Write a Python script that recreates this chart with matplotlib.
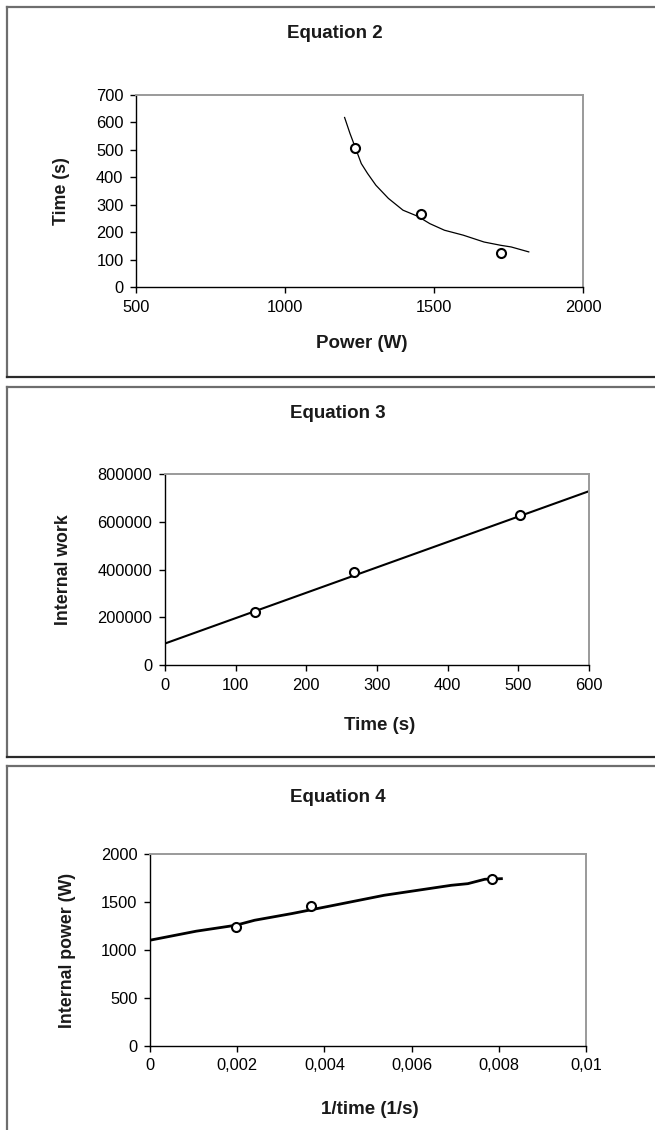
import matplotlib
matplotlib.use("Agg")
import matplotlib.pyplot as plt
from matplotlib.lines import Line2D
from matplotlib import font_manager

# ---------------- data ----------------
eq2_power = [1235, 1455, 1725]
eq2_time = [505, 265, 125]
eq2_curve_x = [1200, 1218, 1235, 1256, 1277, 1305, 1347, 1396, 1445, 1486, 1535, 1598, 1668, 1724, 1759, 1818]
eq2_curve_y = [618, 560, 511, 450, 414, 371, 323, 280, 258, 231, 207, 189, 164, 152, 146, 128]

eq3_time = [128, 268, 503]
eq3_work = [222000, 391000, 628000]
eq3_line_x = [0, 600]
eq3_line_y = [90000, 728000]

eq4_inv_time = [0.00197, 0.00370, 0.00785]
eq4_power = [1241, 1456, 1735]
eq4_line_x = [0, 0.00106, 0.00197, 0.0024, 0.00326, 0.00422, 0.00537, 0.00614, 0.00691, 0.00729, 0.00768, 0.00806]
eq4_line_y = [1102, 1196, 1258, 1310, 1380, 1466, 1570, 1622, 1674, 1691, 1737, 1743]

eq2_xticks = [500, 1000, 1500, 2000]
eq2_yticks = [0, 100, 200, 300, 400, 500, 600, 700]
eq3_xticks = [0, 100, 200, 300, 400, 500, 600]
eq3_yticks = [0, 200000, 400000, 600000, 800000]
eq4_xticks = [0, 0.002, 0.004, 0.006, 0.008, 0.01]
eq4_xticklabels = ["0", "0,002", "0,004", "0,006", "0,008", "0,01"]
eq4_yticks = [0, 500, 1000, 1500, 2000]

titles = ["Equation 2", "Equation 3", "Equation 4"]
xlabels = ["Power (W)", "Time (s)", "1/time (1/s)"]
ylabels = ["Time (s)", "Internal work", "Internal power (W)"]

# ---------------- fonts ----------------
avail = {f.name for f in font_manager.fontManager.ttflist}
narrow = "Liberation Sans Narrow" if "Liberation Sans Narrow" in avail else "Liberation Sans"
plt.rcParams['font.family'] = ['Liberation Sans', 'DejaVu Sans']

W, H = 655, 1130
fig = plt.figure(figsize=(W / 100, H / 100), dpi=100)


def fx(px):
    return px / W


def fy(py):
    return 1 - py / H


# panel borders
for top, bottom in [(6.5, 377), (387, 757), (766, 1140)]:
    fig.add_artist(Line2D([fx(6.5), fx(6.5)], [fy(top), fy(bottom)], color="#6e6e6e", lw=1.6))
    fig.add_artist(Line2D([fx(6.5), fx(670)], [fy(top), fy(top)], color="#6e6e6e", lw=1.6))
    fig.add_artist(Line2D([fx(6.5), fx(670)], [fy(bottom), fy(bottom)], color="#2a2a2a", lw=1.6))

axes_px = [(136, 583, 95, 287), (165, 589, 474, 665), (150, 586, 854, 1046)]
title_pos = [(335, 34), (338, 414), (338, 798)]
xlabel_pos = [(362, 343), (380, 725), (370, 1110)]
ylabel_x = [62, 64, 68]

axs = []
for (l, r, t, b) in axes_px:
    ax = fig.add_axes([fx(l), fy(b), (r - l) / W, (b - t) / H])
    for s in ["top", "right"]:
        ax.spines[s].set_color("#9a9a9a")
        ax.spines[s].set_linewidth(1.4)
    for s in ["left", "bottom"]:
        ax.spines[s].set_color("black")
        ax.spines[s].set_linewidth(1.0)
    ax.tick_params(direction="out", length=4, width=1, labelsize=11.8, pad=5, colors="black")
    axs.append(ax)

mk = dict(marker="o", ls="none", mfc="white", mec="black", ms=6.5, mew=1.5, zorder=3)

ax = axs[0]
ax.plot(eq2_curve_x, eq2_curve_y, color="black", lw=0.9)
ax.plot(eq2_power, eq2_time, **mk)
ax.set_xlim(500, 2000)
ax.set_ylim(0, 700)
ax.set_xticks(eq2_xticks)
ax.set_yticks(eq2_yticks)

ax = axs[1]
ax.plot(eq3_line_x, eq3_line_y, color="black", lw=1.5)
ax.plot(eq3_time, eq3_work, **mk)
ax.set_xlim(0, 600)
ax.set_ylim(0, 800000)
ax.set_xticks(eq3_xticks)
ax.set_yticks(eq3_yticks)
ax.set_yticklabels([str(v) for v in eq3_yticks])

ax = axs[2]
ax.plot(eq4_line_x, eq4_line_y, color="black", lw=2.0)
ax.plot(eq4_inv_time, eq4_power, **mk)
ax.set_xlim(0, 0.01)
ax.set_ylim(0, 2000)
ax.set_xticks(eq4_xticks)
ax.set_xticklabels(eq4_xticklabels)
ax.set_yticks(eq4_yticks)

for i, (l, r, t, b) in enumerate(axes_px):
    fig.text(fx(title_pos[i][0]), fy(title_pos[i][1]), titles[i], ha="center", va="center",
             fontsize=13.5, fontweight="bold", family=[narrow, "DejaVu Sans"], color="#1a1a1a")
    fig.text(fx(xlabel_pos[i][0]), fy(xlabel_pos[i][1]), xlabels[i], ha="center", va="center",
             fontsize=13.5, fontweight="bold", family=[narrow, "DejaVu Sans"], color="#1a1a1a")
    fig.text(fx(ylabel_x[i]), fy((t + b) / 2), ylabels[i], ha="center", va="center",
             rotation=90, fontsize=12.8, fontweight="bold", color="#1a1a1a")

fig.savefig("out.png", dpi=100)
